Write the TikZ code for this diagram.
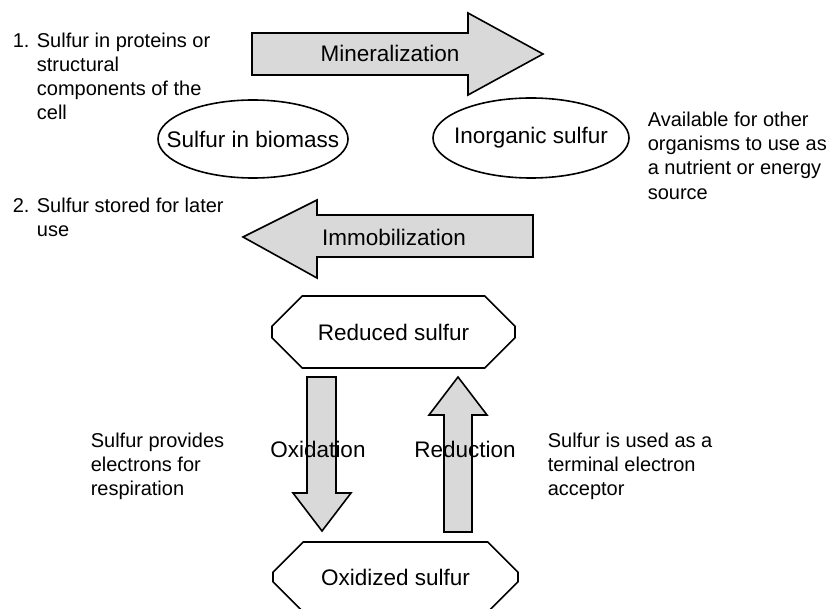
\documentclass[tikz,border=0pt]{standalone}
\usepackage{fontspec}
\setmainfont{Liberation Sans}
\usetikzlibrary{shapes.misc}

\begin{document}
\begin{tikzpicture}[x=0.5pt,y=-0.5pt,line width=0.8pt,
  blk/.style={draw,fill=black!15,line join=miter},
  lbl/.style={font=\fontsize{11.25}{13.5}\selectfont,inner sep=0pt},
  note/.style={font=\fontsize{10}{12}\selectfont,inner sep=0pt,anchor=base west},
  octa/.style={lbl,draw,chamfered rectangle,chamfered rectangle xsep=12.5pt,
    chamfered rectangle ysep=11pt}]
  \clip (0,0) rectangle (829,609);
  % mineralisation (right) and immobilisation (left)
  \draw[blk] (252,33) -- (468,33) -- (468,13) -- (543,54) -- (468,95) -- (468,75) -- (252,75) -- cycle;
  \node[lbl,anchor=base] (mine) at (390,62) {Mineralization};
  \draw[blk] (243,237) -- (317,200) -- (317,215) -- (533,215) -- (533,257) -- (317,257) -- (317,278) -- cycle;
  \node[lbl,anchor=base] (immo) at (394,245) {Immobilization};
  % the two pools
  \node[lbl] (bio) at (253,139) {Sulfur in biomass};
  \draw (bio.center) ellipse [x radius=95, y radius=39];
  \node[lbl] (inorg) at (531,138) {Inorganic sulfur};
  \draw (inorg.center) ellipse [x radius=98, y radius=40];
  % redox cycle
  \node[octa,minimum width=121.5pt,minimum height=36pt] (red) at (393.5,332) {Reduced sulfur};
  \node[octa,minimum width=122.5pt,minimum height=35pt] (ox) at (395.5,577) {Oxidized sulfur};
  \draw[blk] (307,377) -- (336,377) -- (336,493) -- (351,493) -- (322,531) -- (293,493) -- (307,493) -- cycle;
  \draw[blk] (444,532) -- (444,415) -- (429,415) -- (458,377) -- (487,415) -- (472,415) -- (472,532) -- cycle;
  \node[lbl,anchor=base] (oxlab) at (318,457) {Oxidation};
  \node[lbl,anchor=base] (redlab) at (465,457) {Reduction};
  % notes
  \node[note] (n1) at (12,48) {\begin{tabular}[t]{@{}l@{ }l@{}}1.&Sulfur in proteins or\\&structural\\&components of the\\&cell\end{tabular}};
  \node[note] (n2) at (12,213) {\begin{tabular}[t]{@{}l@{ }l@{}}2.&Sulfur stored for later\\&use\end{tabular}};
  \node[note] (avail) at (647,127) {\begin{tabular}[t]{@{}l@{}}Available for other\\organisms to use as\\a nutrient or energy\\source\end{tabular}};
  \node[note] (resp) at (90,447) {\begin{tabular}[t]{@{}l@{}}Sulfur provides\\electrons for\\respiration\end{tabular}};
  \node[note] (accept) at (547,447) {\begin{tabular}[t]{@{}l@{}}Sulfur is used as a\\terminal electron\\acceptor\end{tabular}};
\end{tikzpicture}
\end{document}
